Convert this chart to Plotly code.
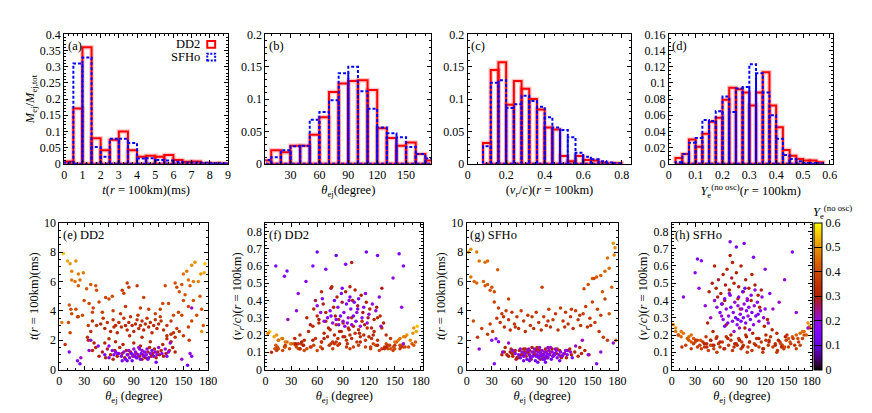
import numpy as np
import plotly.graph_objects as go
from plotly.subplots import make_subplots

# ---- histogram data (fraction of ejecta mass per bin) ----
# (a) t(r=100km), bins of 0.5 ms starting at 0
t_bin_start, t_bin_width = 0.0, 0.5
t_hist_dd2 = [0.007, 0.171, 0.36, 0.079, 0.042, 0.074, 0.1, 0.042, 0.022,
              0.025, 0.022, 0.027, 0.012, 0.006, 0.007, 0.002, 0.002, 0.001]
t_hist_sfho = [0.004, 0.31, 0.328, 0.052, 0.022, 0.077, 0.077, 0.064, 0.016,
               0.017, 0.012, 0.01, 0.006, 0.004, 0.004, 0.003, 0.002, 0.002]

# (b) theta_ej, bins of 10 degree starting at 0
th_bin_start, th_bin_width = 0.0, 10.0
th_hist_dd2 = [0.005, 0.021, 0.018, 0.028, 0.028, 0.045, 0.072, 0.111, 0.124,
               0.128, 0.129, 0.114, 0.055, 0.04, 0.028, 0.033, 0.015, 0.005]
th_hist_sfho = [0.006, 0.01, 0.021, 0.027, 0.028, 0.068, 0.08, 0.098, 0.14,
                0.15, 0.112, 0.085, 0.056, 0.047, 0.041, 0.026, 0.015, 0.008]

# (c) v_r/c, bins of 0.04 starting at 0.08
v_bin_start, v_bin_width = 0.08, 0.04
v_hist_dd2 = [0.032, 0.145, 0.157, 0.091, 0.128, 0.116, 0.1, 0.084, 0.056,
              0.053, 0.012, 0.004, 0.012, 0.006, 0.005, 0.002, 0.001, 0.001]
v_hist_sfho = [0.027, 0.125, 0.129, 0.086, 0.092, 0.105, 0.097, 0.088, 0.072,
               0.056, 0.052, 0.041, 0.017, 0.011, 0.007, 0.004, 0.002, 0.001]

# (d) Ye (no osc), bins of 0.025 starting at 0.025
ye_bin_start, ye_bin_width = 0.025, 0.025
ye_hist_dd2 = [0.007, 0.012, 0.03, 0.021, 0.037, 0.052, 0.057, 0.079, 0.094,
               0.092, 0.088, 0.072, 0.088, 0.113, 0.072, 0.045, 0.017, 0.01,
               0.006, 0.004, 0.004, 0.002]
ye_hist_sfho = [0.002, 0.012, 0.026, 0.032, 0.054, 0.053, 0.065, 0.083, 0.064,
                0.093, 0.095, 0.123, 0.112, 0.088, 0.06, 0.031, 0.011, 0.006,
                0.003, 0.001, 0.001, 0.0005]

# ---- tracer data: (theta_ej [deg], t(r=100km) [ms], v_r/c, Ye) ----
dd2_purple = [
    (72, 1.1, 0.30, 0.18), (75, 0.9, 0.34, 0.15), (78, 1.2, 0.27, 0.20), (80, 0.7, 0.40, 0.14),
    (82, 1.0, 0.29, 0.17), (84, 1.3, 0.36, 0.19), (85, 0.8, 0.26, 0.16), (87, 1.1, 0.31, 0.13),
    (88, 0.6, 0.44, 0.12), (90, 1.4, 0.28, 0.20), (91, 0.9, 0.33, 0.16), (92, 1.2, 0.25, 0.18),
    (94, 0.8, 0.38, 0.14), (95, 1.0, 0.27, 0.19), (96, 1.5, 0.30, 0.21), (98, 0.7, 0.42, 0.13),
    (99, 1.1, 0.35, 0.17), (100, 1.3, 0.26, 0.20), (102, 0.9, 0.31, 0.15), (103, 1.2, 0.39, 0.18),
    (105, 1.0, 0.28, 0.16), (106, 1.4, 0.33, 0.20), (108, 0.8, 0.41, 0.14), (110, 1.1, 0.25, 0.19),
    (112, 1.3, 0.30, 0.17), (114, 0.9, 0.36, 0.15), (116, 1.2, 0.44, 0.18), (118, 1.0, 0.27, 0.20),
    (120, 1.5, 0.32, 0.21), (64, 1.3, 0.33, 0.20), (60, 1.6, 0.37, 0.19), (66, 1.0, 0.41, 0.16),
    (68, 1.2, 0.28, 0.20), (124, 1.1, 0.38, 0.18), (128, 1.4, 0.34, 0.20), (132, 1.2, 0.42, 0.17),
    (134, 1.8, 0.25, 0.22), (12, 1.2, 0.60, 0.15), (22, 0.6, 0.54, 0.17), (25, 0.4, 0.57, 0.14),
    (47, 1.6, 0.51, 0.18), (55, 1.0, 0.60, 0.16), (60, 0.8, 0.68, 0.13), (70, 1.1, 0.58, 0.15),
    (82, 0.6, 0.66, 0.12), (93, 0.8, 0.61, 0.16), (117, 0.5, 0.68, 0.13), (130, 0.9, 0.66, 0.15),
    (155, 0.3, 0.67, 0.14), (160, 0.9, 0.60, 0.16), (148, 0.7, 0.53, 0.20), (36, 1.3, 0.34, 0.20),
    (38, 2.0, 0.44, 0.20), (26, 0.8, 0.29, 0.22), (158, 1.1, 0.36, 0.19), (160, 4.2, 0.15, 0.21),
    (76, 0.6, 0.31, 0.13), (97, 1.4, 0.40, 0.19), (89, 1.0, 0.47, 0.16), (107, 0.7, 0.35, 0.15),
]
dd2_early_red = [
    (48, 0.9, 0.30, 0.30), (52, 1.2, 0.26, 0.29), (56, 0.8, 0.35, 0.31), (58, 1.4, 0.40, 0.28),
    (62, 1.0, 0.29, 0.30), (65, 0.7, 0.45, 0.32), (67, 1.3, 0.38, 0.29), (70, 0.9, 0.33, 0.30),
    (73, 1.5, 0.24, 0.31), (76, 1.1, 0.47, 0.28), (79, 0.8, 0.36, 0.30), (81, 1.3, 0.31, 0.29),
    (83, 1.0, 0.42, 0.31), (86, 1.2, 0.22, 0.30), (89, 0.9, 0.39, 0.28), (93, 1.1, 0.45, 0.30),
    (97, 0.9, 0.23, 0.31), (101, 1.0, 0.40, 0.29), (104, 0.8, 0.46, 0.30), (107, 1.2, 0.37, 0.28),
    (109, 1.5, 0.21, 0.32), (111, 0.9, 0.43, 0.30), (113, 1.1, 0.33, 0.29), (115, 1.4, 0.26, 0.31),
    (117, 0.8, 0.39, 0.30), (119, 1.2, 0.30, 0.28), (121, 1.0, 0.35, 0.30), (123, 1.3, 0.24, 0.31),
    (126, 0.9, 0.29, 0.30), (129, 1.1, 0.36, 0.29), (133, 1.3, 0.31, 0.32), (137, 1.5, 0.27, 0.30),
    (140, 1.2, 0.13, 0.31), (44, 1.5, 0.14, 0.31), (42, 1.8, 0.16, 0.30), (135, 1.9, 0.47, 0.29),
    (98, 1.6, 0.48, 0.30), (77, 1.7, 0.48, 0.31), (40, 1.3, 0.12, 0.32), (35, 2.0, 0.15, 0.31),
    (130, 2.3, 0.14, 0.32), (138, 2.5, 0.12, 0.33), (55, 1.8, 0.17, 0.31), (90, 1.8, 0.19, 0.31),
    (110, 1.9, 0.16, 0.32), (68, 1.9, 0.18, 0.31), (125, 1.7, 0.20, 0.31), (100, 0.7, 0.62, 0.29),
]
dd2_band3 = [
    (40, 3.3, 0.20, 0.33), (45, 3.0, 0.17, 0.34), (50, 3.1, 0.22, 0.32), (55, 2.8, 0.25, 0.33),
    (58, 3.2, 0.18, 0.35), (62, 2.6, 0.27, 0.32), (65, 3.4, 0.16, 0.34), (68, 3.0, 0.21, 0.33),
    (70, 2.5, 0.28, 0.31), (72, 3.2, 0.19, 0.34), (75, 2.9, 0.23, 0.33), (78, 3.5, 0.16, 0.35),
    (80, 3.0, 0.20, 0.32), (82, 2.7, 0.26, 0.33), (84, 3.2, 0.18, 0.34), (86, 3.6, 0.15, 0.35),
    (88, 3.0, 0.22, 0.33), (90, 2.6, 0.27, 0.32), (92, 3.1, 0.19, 0.34), (94, 3.4, 0.17, 0.35),
    (96, 2.8, 0.24, 0.33), (98, 3.0, 0.20, 0.34), (100, 3.3, 0.18, 0.33), (102, 2.7, 0.25, 0.32),
    (104, 3.1, 0.21, 0.34), (106, 3.5, 0.16, 0.35), (108, 2.9, 0.23, 0.33), (110, 3.2, 0.19, 0.34),
    (112, 2.5, 0.28, 0.32), (114, 3.0, 0.20, 0.33), (116, 3.4, 0.17, 0.35), (118, 2.8, 0.24, 0.34),
    (120, 3.1, 0.19, 0.33), (123, 3.3, 0.18, 0.34), (126, 2.7, 0.22, 0.33), (130, 3.0, 0.17, 0.35),
    (135, 2.4, 0.24, 0.33), (140, 2.2, 0.20, 0.34), (145, 2.6, 0.18, 0.35), (34, 2.2, 0.18, 0.33),
    (38, 2.6, 0.15, 0.34), (130, 2.1, 0.30, 0.33), (150, 2.3, 0.14, 0.36), (157, 2.0, 0.13, 0.35),
    (60, 2.1, 0.31, 0.32), (85, 2.3, 0.29, 0.33), (100, 2.2, 0.30, 0.32), (74, 3.8, 0.14, 0.35),
    (95, 3.7, 0.15, 0.35), (122, 3.6, 0.13, 0.36), (53, 3.5, 0.13, 0.35), (66, 2.9, 0.12, 0.34),
]
dd2_slow_orange = [
    (14, 4.1, 0.13, 0.40), (15, 3.8, 0.12, 0.39), (12, 4.4, 0.14, 0.41), (20, 4.1, 0.11, 0.40),
    (22, 3.6, 0.13, 0.38), (28, 3.7, 0.12, 0.39), (23, 5.7, 0.13, 0.42), (33, 5.5, 0.15, 0.41),
    (38, 5.8, 0.12, 0.42), (44, 5.7, 0.14, 0.41), (45, 5.4, 0.11, 0.40), (36, 4.5, 0.13, 0.39),
    (41, 4.2, 0.15, 0.38), (48, 4.6, 0.12, 0.39), (56, 4.9, 0.14, 0.38), (60, 4.8, 0.11, 0.39),
    (52, 3.9, 0.13, 0.37), (76, 5.4, 0.15, 0.36), (78, 5.2, 0.12, 0.37), (82, 5.9, 0.16, 0.36),
    (84, 5.6, 0.14, 0.37), (94, 5.7, 0.13, 0.36), (80, 4.3, 0.15, 0.36), (98, 4.2, 0.12, 0.37),
    (108, 4.1, 0.14, 0.37), (116, 3.8, 0.13, 0.38), (122, 4.1, 0.12, 0.38), (128, 5.7, 0.14, 0.40),
    (132, 4.5, 0.11, 0.39), (138, 3.7, 0.13, 0.39), (140, 5.9, 0.15, 0.41), (142, 5.6, 0.12, 0.40),
    (144, 3.9, 0.14, 0.38), (148, 5.8, 0.13, 0.41), (150, 4.7, 0.12, 0.40), (148, 3.7, 0.11, 0.39),
    (156, 4.3, 0.14, 0.40), (162, 4.7, 0.13, 0.41), (170, 5.0, 0.15, 0.42), (172, 4.1, 0.14, 0.41),
    (166, 3.7, 0.13, 0.40), (156, 2.9, 0.12, 0.38), (142, 2.8, 0.14, 0.37), (174, 3.0, 0.16, 0.42),
    (11, 3.2, 0.12, 0.39), (7, 1.7, 0.10, 0.34), (13, 2.5, 0.11, 0.37), (23, 3.6, 0.14, 0.38),
    (65, 4.0, 0.16, 0.37), (102, 4.9, 0.13, 0.38), (125, 4.5, 0.15, 0.39), (158, 5.7, 0.14, 0.42),
    (145, 5.3, 0.12, 0.41), (64, 5.0, 0.13, 0.40), (35, 3.0, 0.14, 0.37), (160, 3.3, 0.13, 0.39),
    (40, 3.9, 0.12, 0.38), (135, 3.3, 0.12, 0.36), (30, 4.7, 0.15, 0.40), (152, 5.1, 0.16, 0.41),
]
dd2_polar = [
    (5, 7.9, 0.22, 0.55), (10, 7.4, 0.19, 0.52), (13, 7.2, 0.20, 0.50), (20, 7.4, 0.18, 0.49),
    (15, 6.7, 0.17, 0.48), (23, 6.5, 0.16, 0.47), (29, 6.6, 0.15, 0.47), (15, 6.1, 0.17, 0.46),
    (19, 6.0, 0.18, 0.46), (25, 6.1, 0.16, 0.45), (176, 7.2, 0.25, 0.55), (164, 7.3, 0.20, 0.50),
    (160, 7.1, 0.19, 0.49), (175, 6.6, 0.22, 0.52), (171, 6.5, 0.21, 0.50), (154, 6.7, 0.17, 0.47),
    (150, 6.5, 0.16, 0.46), (156, 6.1, 0.18, 0.46), (162, 6.0, 0.19, 0.47), (168, 6.0, 0.17, 0.48),
    (3, 3.2, 0.21, 0.47), (172, 2.6, 0.24, 0.50),
]

sfho_purple = [
    (62, 1.0, 0.33, 0.17), (64, 0.8, 0.38, 0.14), (66, 1.2, 0.29, 0.19), (68, 0.9, 0.41, 0.15),
    (70, 1.1, 0.35, 0.18), (72, 0.7, 0.27, 0.13), (73, 1.3, 0.31, 0.20), (75, 1.0, 0.43, 0.16),
    (76, 0.8, 0.36, 0.14), (78, 1.2, 0.28, 0.19), (79, 0.9, 0.33, 0.17), (81, 1.4, 0.39, 0.21),
    (82, 0.6, 0.30, 0.12), (84, 1.0, 0.26, 0.18), (85, 1.2, 0.37, 0.20), (86, 0.8, 0.42, 0.15),
    (88, 1.1, 0.32, 0.17), (89, 0.9, 0.28, 0.14), (90, 1.3, 0.35, 0.19), (91, 0.7, 0.45, 0.13),
    (92, 1.0, 0.30, 0.16), (93, 1.2, 0.38, 0.20), (95, 0.9, 0.27, 0.15), (96, 1.1, 0.34, 0.18),
    (97, 0.8, 0.40, 0.14), (98, 1.3, 0.31, 0.20), (99, 1.0, 0.36, 0.17), (101, 0.7, 0.29, 0.13),
    (102, 1.2, 0.43, 0.19), (103, 0.9, 0.33, 0.16), (105, 1.1, 0.26, 0.18), (106, 1.4, 0.37, 0.21),
    (108, 0.8, 0.31, 0.15), (110, 1.0, 0.39, 0.17), (112, 1.2, 0.28, 0.20), (114, 0.9, 0.34, 0.16),
    (116, 1.1, 0.42, 0.18), (118, 1.3, 0.30, 0.20), (58, 1.1, 0.36, 0.19), (55, 1.3, 0.40, 0.20),
    (120, 1.0, 0.35, 0.18), (124, 1.2, 0.27, 0.21), (87, 1.5, 0.24, 0.22), (94, 0.5, 0.47, 0.12),
    (80, 1.2, 0.22, 0.21), (100, 1.5, 0.23, 0.22), (107, 1.3, 0.46, 0.19), (74, 1.4, 0.44, 0.20),
    (30, 2.0, 0.56, 0.18), (33, 0.4, 0.64, 0.14), (38, 1.9, 0.63, 0.17), (75, 0.6, 0.74, 0.15),
    (83, 0.9, 0.71, 0.13), (93, 0.7, 0.73, 0.14), (105, 1.0, 0.65, 0.17), (120, 1.3, 0.58, 0.20),
    (145, 1.0, 0.52, 0.20), (155, 0.4, 0.68, 0.15), (15, 1.4, 0.42, 0.20), (50, 1.8, 0.30, 0.22),
    (130, 1.6, 0.35, 0.21), (160, 1.2, 0.33, 0.20), (175, 1.8, 0.24, 0.21), (68, 0.6, 0.25, 0.13),
    (111, 0.6, 0.32, 0.13), (85, 0.5, 0.29, 0.12), (97, 1.5, 0.41, 0.21), (64, 1.4, 0.31, 0.21),
    (35, 2.1, 0.47, 0.19), (138, 2.0, 0.39, 0.22), (43, 1.2, 0.37, 0.20), (126, 0.8, 0.44, 0.16),
]
sfho_early_red = [
    (48, 1.0, 0.45, 0.30), (52, 1.2, 0.50, 0.29), (55, 0.9, 0.60, 0.31), (57, 1.1, 0.47, 0.30),
    (60, 0.8, 0.52, 0.28), (63, 1.3, 0.44, 0.31), (66, 1.0, 0.55, 0.30), (69, 1.2, 0.49, 0.29),
    (71, 0.9, 0.58, 0.32), (74, 1.1, 0.46, 0.30), (77, 0.7, 0.53, 0.28), (80, 1.0, 0.50, 0.31),
    (83, 1.3, 0.56, 0.30), (86, 0.9, 0.48, 0.29), (89, 1.1, 0.60, 0.31), (92, 0.8, 0.45, 0.30),
    (95, 1.2, 0.52, 0.29), (99, 1.0, 0.47, 0.31), (103, 0.9, 0.55, 0.30), (107, 1.1, 0.49, 0.30),
    (111, 1.3, 0.43, 0.31), (115, 1.0, 0.46, 0.29), (68, 1.4, 0.40, 0.30), (85, 1.3, 0.41, 0.31),
    (78, 1.5, 0.62, 0.30), (65, 1.0, 0.38, 0.28), (42, 1.0, 0.15, 0.31), (45, 1.2, 0.13, 0.32),
    (50, 0.9, 0.17, 0.30), (54, 1.1, 0.14, 0.31), (58, 1.3, 0.19, 0.32), (62, 0.8, 0.16, 0.30),
    (67, 1.0, 0.12, 0.31), (72, 1.2, 0.18, 0.32), (76, 0.9, 0.20, 0.30), (81, 1.1, 0.15, 0.31),
    (87, 1.3, 0.17, 0.32), (91, 1.0, 0.13, 0.31), (96, 0.8, 0.19, 0.30), (100, 1.2, 0.16, 0.32),
    (104, 1.0, 0.21, 0.31), (108, 1.4, 0.14, 0.32), (112, 0.9, 0.18, 0.30), (117, 1.1, 0.12, 0.31),
    (121, 1.3, 0.20, 0.32), (125, 1.0, 0.16, 0.31), (129, 1.2, 0.23, 0.30), (133, 0.9, 0.14, 0.32),
    (137, 1.1, 0.17, 0.31), (141, 1.3, 0.13, 0.32), (146, 1.0, 0.19, 0.31), (119, 0.8, 0.25, 0.30),
    (94, 1.4, 0.24, 0.30), (70, 1.4, 0.26, 0.31), (59, 0.7, 0.42, 0.29), (102, 1.4, 0.40, 0.30),
    (88, 0.7, 0.35, 0.29), (113, 0.8, 0.36, 0.30), (75, 1.3, 0.66, 0.30), (53, 1.4, 0.22, 0.32),
    (135, 1.5, 0.21, 0.32), (123, 1.4, 0.29, 0.31), (84, 1.5, 0.14, 0.33), (46, 1.5, 0.27, 0.31),
]
sfho_band3 = [
    (36, 3.5, 0.14, 0.36), (38, 4.2, 0.12, 0.37), (40, 3.2, 0.16, 0.35), (42, 3.8, 0.13, 0.36),
    (45, 2.9, 0.15, 0.34), (47, 4.0, 0.11, 0.37), (50, 3.4, 0.17, 0.35), (52, 2.7, 0.14, 0.34),
    (54, 3.9, 0.12, 0.36), (57, 3.1, 0.18, 0.35), (60, 3.6, 0.15, 0.36), (62, 2.8, 0.13, 0.34),
    (65, 4.0, 0.16, 0.37), (68, 3.3, 0.12, 0.35), (70, 2.6, 0.19, 0.34), (73, 3.7, 0.14, 0.36),
    (76, 3.0, 0.17, 0.35), (80, 2.8, 0.13, 0.34), (83, 3.9, 0.15, 0.36), (86, 3.2, 0.18, 0.35),
    (89, 2.7, 0.12, 0.34), (90, 5.6, 0.16, 0.38), (92, 3.6, 0.14, 0.36), (95, 3.0, 0.20, 0.35),
    (98, 4.1, 0.13, 0.37), (100, 2.9, 0.16, 0.34), (103, 3.4, 0.11, 0.36), (106, 3.8, 0.15, 0.36),
    (109, 2.7, 0.18, 0.34), (112, 4.2, 0.13, 0.37), (115, 3.3, 0.16, 0.35), (118, 3.9, 0.12, 0.36),
    (121, 3.1, 0.17, 0.35), (124, 3.6, 0.14, 0.36), (127, 2.8, 0.19, 0.34), (130, 4.0, 0.13, 0.37),
    (133, 3.4, 0.15, 0.35), (136, 3.0, 0.11, 0.35), (139, 3.8, 0.16, 0.36), (142, 4.3, 0.14, 0.37),
    (144, 2.9, 0.12, 0.35), (147, 3.5, 0.17, 0.36), (150, 4.6, 0.13, 0.38), (153, 3.2, 0.15, 0.36),
    (156, 4.1, 0.18, 0.37), (158, 2.6, 0.14, 0.35), (160, 3.7, 0.12, 0.37), (163, 2.2, 0.16, 0.36),
    (165, 4.8, 0.14, 0.38), (31, 2.6, 0.17, 0.36), (28, 3.1, 0.15, 0.37), (33, 4.6, 0.13, 0.38),
    (25, 2.4, 0.12, 0.36), (18, 2.8, 0.14, 0.37), (13, 2.2, 0.13, 0.35), (140, 5.5, 0.15, 0.39),
    (145, 5.8, 0.13, 0.40), (152, 6.2, 0.16, 0.40), (50, 4.8, 0.14, 0.38), (168, 2.0, 0.18, 0.37),
    (58, 2.9, 0.10, 0.35), (78, 3.6, 0.11, 0.36), (97, 3.3, 0.10, 0.35), (117, 2.9, 0.10, 0.35),
    (135, 3.7, 0.10, 0.36), (44, 3.6, 0.19, 0.35), (148, 3.0, 0.20, 0.35), (125, 4.1, 0.17, 0.37),
]
sfho_polar = [
    (2, 8.0, 0.26, 0.50), (5, 8.2, 0.24, 0.49), (12, 8.0, 0.22, 0.47), (15, 7.4, 0.21, 0.46),
    (22, 7.3, 0.19, 0.45), (25, 7.4, 0.20, 0.45), (37, 6.8, 0.17, 0.42), (5, 6.3, 0.22, 0.46),
    (9, 6.0, 0.20, 0.44), (12, 5.9, 0.19, 0.44), (20, 6.0, 0.18, 0.43), (22, 5.7, 0.17, 0.42),
    (25, 5.8, 0.16, 0.42), (28, 5.4, 0.18, 0.41), (30, 5.6, 0.16, 0.41), (33, 5.3, 0.17, 0.40),
    (175, 8.6, 0.27, 0.50), (177, 8.3, 0.25, 0.49), (176, 7.8, 0.24, 0.48), (168, 7.6, 0.22, 0.46),
    (165, 6.7, 0.21, 0.44), (160, 6.4, 0.20, 0.43), (155, 6.3, 0.19, 0.42), (150, 6.2, 0.18, 0.42),
    (170, 6.9, 0.22, 0.45), (173, 5.6, 0.20, 0.43), (162, 5.3, 0.18, 0.41), (8, 3.3, 0.20, 0.40),
    (170, 3.8, 0.20, 0.41), (178, 2.0, 0.24, 0.44),
]

W, H = 872, 413
FONT = "Liberation Serif"


def box_path(start, width, heights):
    # one closed outline box per histogram bin
    xs, ys = [], []
    for i, h in enumerate(heights):
        x0 = start + i * width
        x1 = x0 + width
        xs += [x0, x0, x1, x1, x0, None]
        ys += [0, h, h, 0, 0, None]
    return xs, ys


def gnuplot_scale(n=31):
    # gnuplot default pm3d palette (rgbformulae 7,5,15)
    out = []
    for k in range(n):
        x = k / (n - 1)
        r = np.sqrt(x)
        g = x ** 3
        b = max(0.0, np.sin(2 * np.pi * x))
        out.append([x, f"rgb({int(r*255)},{int(g*255)},{int(b*255)})"])
    return out


def unpack(*groups):
    pts = [p for grp in groups for p in grp]
    return [list(c) for c in zip(*pts)]


fig = make_subplots(rows=2, cols=4)

hists = [
    (1, 1, t_bin_start, t_bin_width, t_hist_dd2, t_hist_sfho),
    (1, 2, th_bin_start, th_bin_width, th_hist_dd2, th_hist_sfho),
    (1, 3, v_bin_start, v_bin_width, v_hist_dd2, v_hist_sfho),
    (1, 4, ye_bin_start, ye_bin_width, ye_hist_dd2, ye_hist_sfho),
]
for r, c, s, w, hd, hs in hists:
    xr, yr = box_path(s, w, hd)
    # soft halo under the red outline, as in the original eps render
    fig.add_trace(go.Scatter(x=xr, y=yr, mode="lines", line=dict(color="rgba(255,0,0,0.22)", width=4.5),
                             showlegend=False, hoverinfo="skip"), row=r, col=c)
    fig.add_trace(go.Scatter(x=xr, y=yr, mode="lines", line=dict(color="#ff0000", width=2),
                             showlegend=False, hoverinfo="skip"), row=r, col=c)
    xb, yb = box_path(s, w, hs)
    fig.add_trace(go.Scatter(x=xb, y=yb, mode="lines",
                             line=dict(color="#0000ff", width=2, dash="3px,2px"),
                             showlegend=False, hoverinfo="skip"), row=r, col=c)

dd2 = unpack(dd2_slow_orange, dd2_polar, dd2_band3, dd2_early_red, dd2_purple)
sfho = unpack(sfho_polar, sfho_band3, sfho_early_red, sfho_purple)
scat = [(2, 1, dd2[0], dd2[1], dd2[3]), (2, 2, dd2[0], dd2[2], dd2[3]),
        (2, 3, sfho[0], sfho[1], sfho[3]), (2, 4, sfho[0], sfho[2], sfho[3])]
for r, c, x, y, ye in scat:
    fig.add_trace(go.Scatter(x=x, y=y, mode="markers",
                             marker=dict(size=3.5, color=ye, coloraxis="coloraxis", line=dict(width=0)),
                             showlegend=False, hoverinfo="skip"), row=r, col=c)


def xd(a, b):
    return [a / W, b / W]


def yd(top, bottom):
    return [1 - bottom / H, 1 - top / H]


axis_style = dict(showline=True, linecolor="black", linewidth=1, mirror="allticks",
                  ticks="inside", ticklen=4, tickcolor="black", showgrid=False,
                  zeroline=False, tickfont=dict(size=12, color="black"))

theta_t = "<i>θ</i><sub>ej</sub> (degree)"
t_t = "<i>t</i>(<i>r</i> = 100km)(ms)"
v_t = "(<i>v<sub>r</sub></i>/<i>c</i>)(<i>r</i> = 100km)"

xcfg = [
    (xd(54, 220), [0, 9], 1, 0.25, t_t),
    (xd(258, 426), [4, 176], 30, 10, "<i>θ</i><sub>ej</sub>(degree)"),
    (xd(463, 629), [0, 0.85], 0.2, 0.05, v_t),
    (xd(667, 833), [0, 0.61], 0.1, 0.025, "<i>Y</i><sub>e</sub><sup>(no osc)</sup>(<i>r</i> = 100km)"),
    (xd(49, 200), [0, 180], 30, 10, theta_t),
    (xd(258, 418), [0, 183], 30, 10, theta_t),
    (xd(462, 615), [0, 180], 30, 10, theta_t),
    (xd(670, 812), [0, 180], 30, 10, theta_t),
]
ycfg = [
    (yd(20, 154), [0, 0.4], 0.05, 0.01, "<i>M</i><sub>ej</sub>/<i>M</i><sub>ej,tot</sub>"),
    (yd(20, 154), [0, 0.2], 0.05, 0.01, None),
    (yd(20, 154), [0, 0.2], 0.05, 0.01, None),
    (yd(20, 154), [0, 0.16], 0.02, 0.005, None),
    (yd(215, 367), [0, 10], 2, 0.5, t_t),
    (yd(215, 367), [0, 0.85], 0.1, 0.02, v_t),
    (yd(215, 367), [0, 10], 2, 0.5, t_t),
    (yd(215, 367), [0, 0.85], 0.1, 0.02, v_t),
]
for i in range(8):
    n = "" if i == 0 else str(i + 1)
    dom, rng, dt, mdt, title = xcfg[i]
    fig.layout["xaxis" + n].update(domain=dom, range=rng, dtick=dt, tick0=0,
                                   minor=dict(ticks="inside", ticklen=2, dtick=mdt, tick0=0, tickcolor="black"),
                                   title=dict(text=title, font=dict(size=12.5, color="black"), standoff=4),
                                   **axis_style)
    dom, rng, dt, mdt, title = ycfg[i]
    fig.layout["yaxis" + n].update(domain=dom, range=rng, dtick=dt, tick0=0,
                                   minor=dict(ticks="inside", ticklen=2, dtick=mdt, tick0=0, tickcolor="black"),
                                   title=dict(text=title, font=dict(size=12.5, color="black"), standoff=2) if title else None,
                                   **axis_style)

labels = ["(a)", "(b)", "(c)", "(d)", "(e) DD2", "(f) DD2", "(g) SFHo", "(h) SFHo"]
annotations = []
for i, lab in enumerate(labels):
    n = "" if i == 0 else str(i + 1)
    annotations.append(dict(text=lab, xref=f"x{n} domain", yref=f"y{n} domain", x=0.01, y=0.98,
                            xanchor="left", yanchor="top", showarrow=False,
                            font=dict(size=12.5, color="black")))

# legend of panel (a)
annotations += [
    dict(text="DD2", xref="paper", yref="paper", x=194 / W, y=1 - 30 / H, xanchor="right",
         yanchor="middle", showarrow=False, font=dict(size=12.5, color="black")),
    dict(text="SFHo", xref="paper", yref="paper", x=194 / W, y=1 - 43 / H, xanchor="right",
         yanchor="middle", showarrow=False, font=dict(size=12.5, color="black")),
    dict(text="<i>Y</i><sub>e</sub><sup>(no osc)</sup>", xref="paper", yref="paper", x=833 / W,
         y=1 - 204 / H, xanchor="center", yanchor="middle", showarrow=False,
         font=dict(size=12.5, color="black")),
]
shapes = [
    dict(type="rect", xref="paper", yref="paper", x0=199 / W, x1=207 / W, y0=1 - 34 / H, y1=1 - 27 / H,
         line=dict(color="#ff0000", width=2)),
    dict(type="rect", xref="paper", yref="paper", x0=199 / W, x1=207 / W, y0=1 - 47 / H, y1=1 - 40 / H,
         line=dict(color="#0000ff", width=2, dash="2px,1.5px")),
]

fig.update_layout(
    width=W, height=H, margin=dict(l=0, r=0, t=0, b=0),
    paper_bgcolor="white", plot_bgcolor="white",
    font=dict(family=FONT, size=12, color="black"),
    annotations=annotations, shapes=shapes,
    coloraxis=dict(cmin=0, cmax=0.6, colorscale=gnuplot_scale(),
                   colorbar=dict(x=814 / W, xanchor="left", xpad=0, y=1 - 367 / H, yanchor="bottom",
                                 len=152 / H, lenmode="fraction", thickness=8, thicknessmode="pixels",
                                 outlinecolor="black", outlinewidth=1, ypad=0,
                                 tick0=0, dtick=0.1, ticks="inside", ticklen=8, tickcolor="black",
                                 tickfont=dict(size=12, color="black"))),
)

fig.write_html("out.html")
